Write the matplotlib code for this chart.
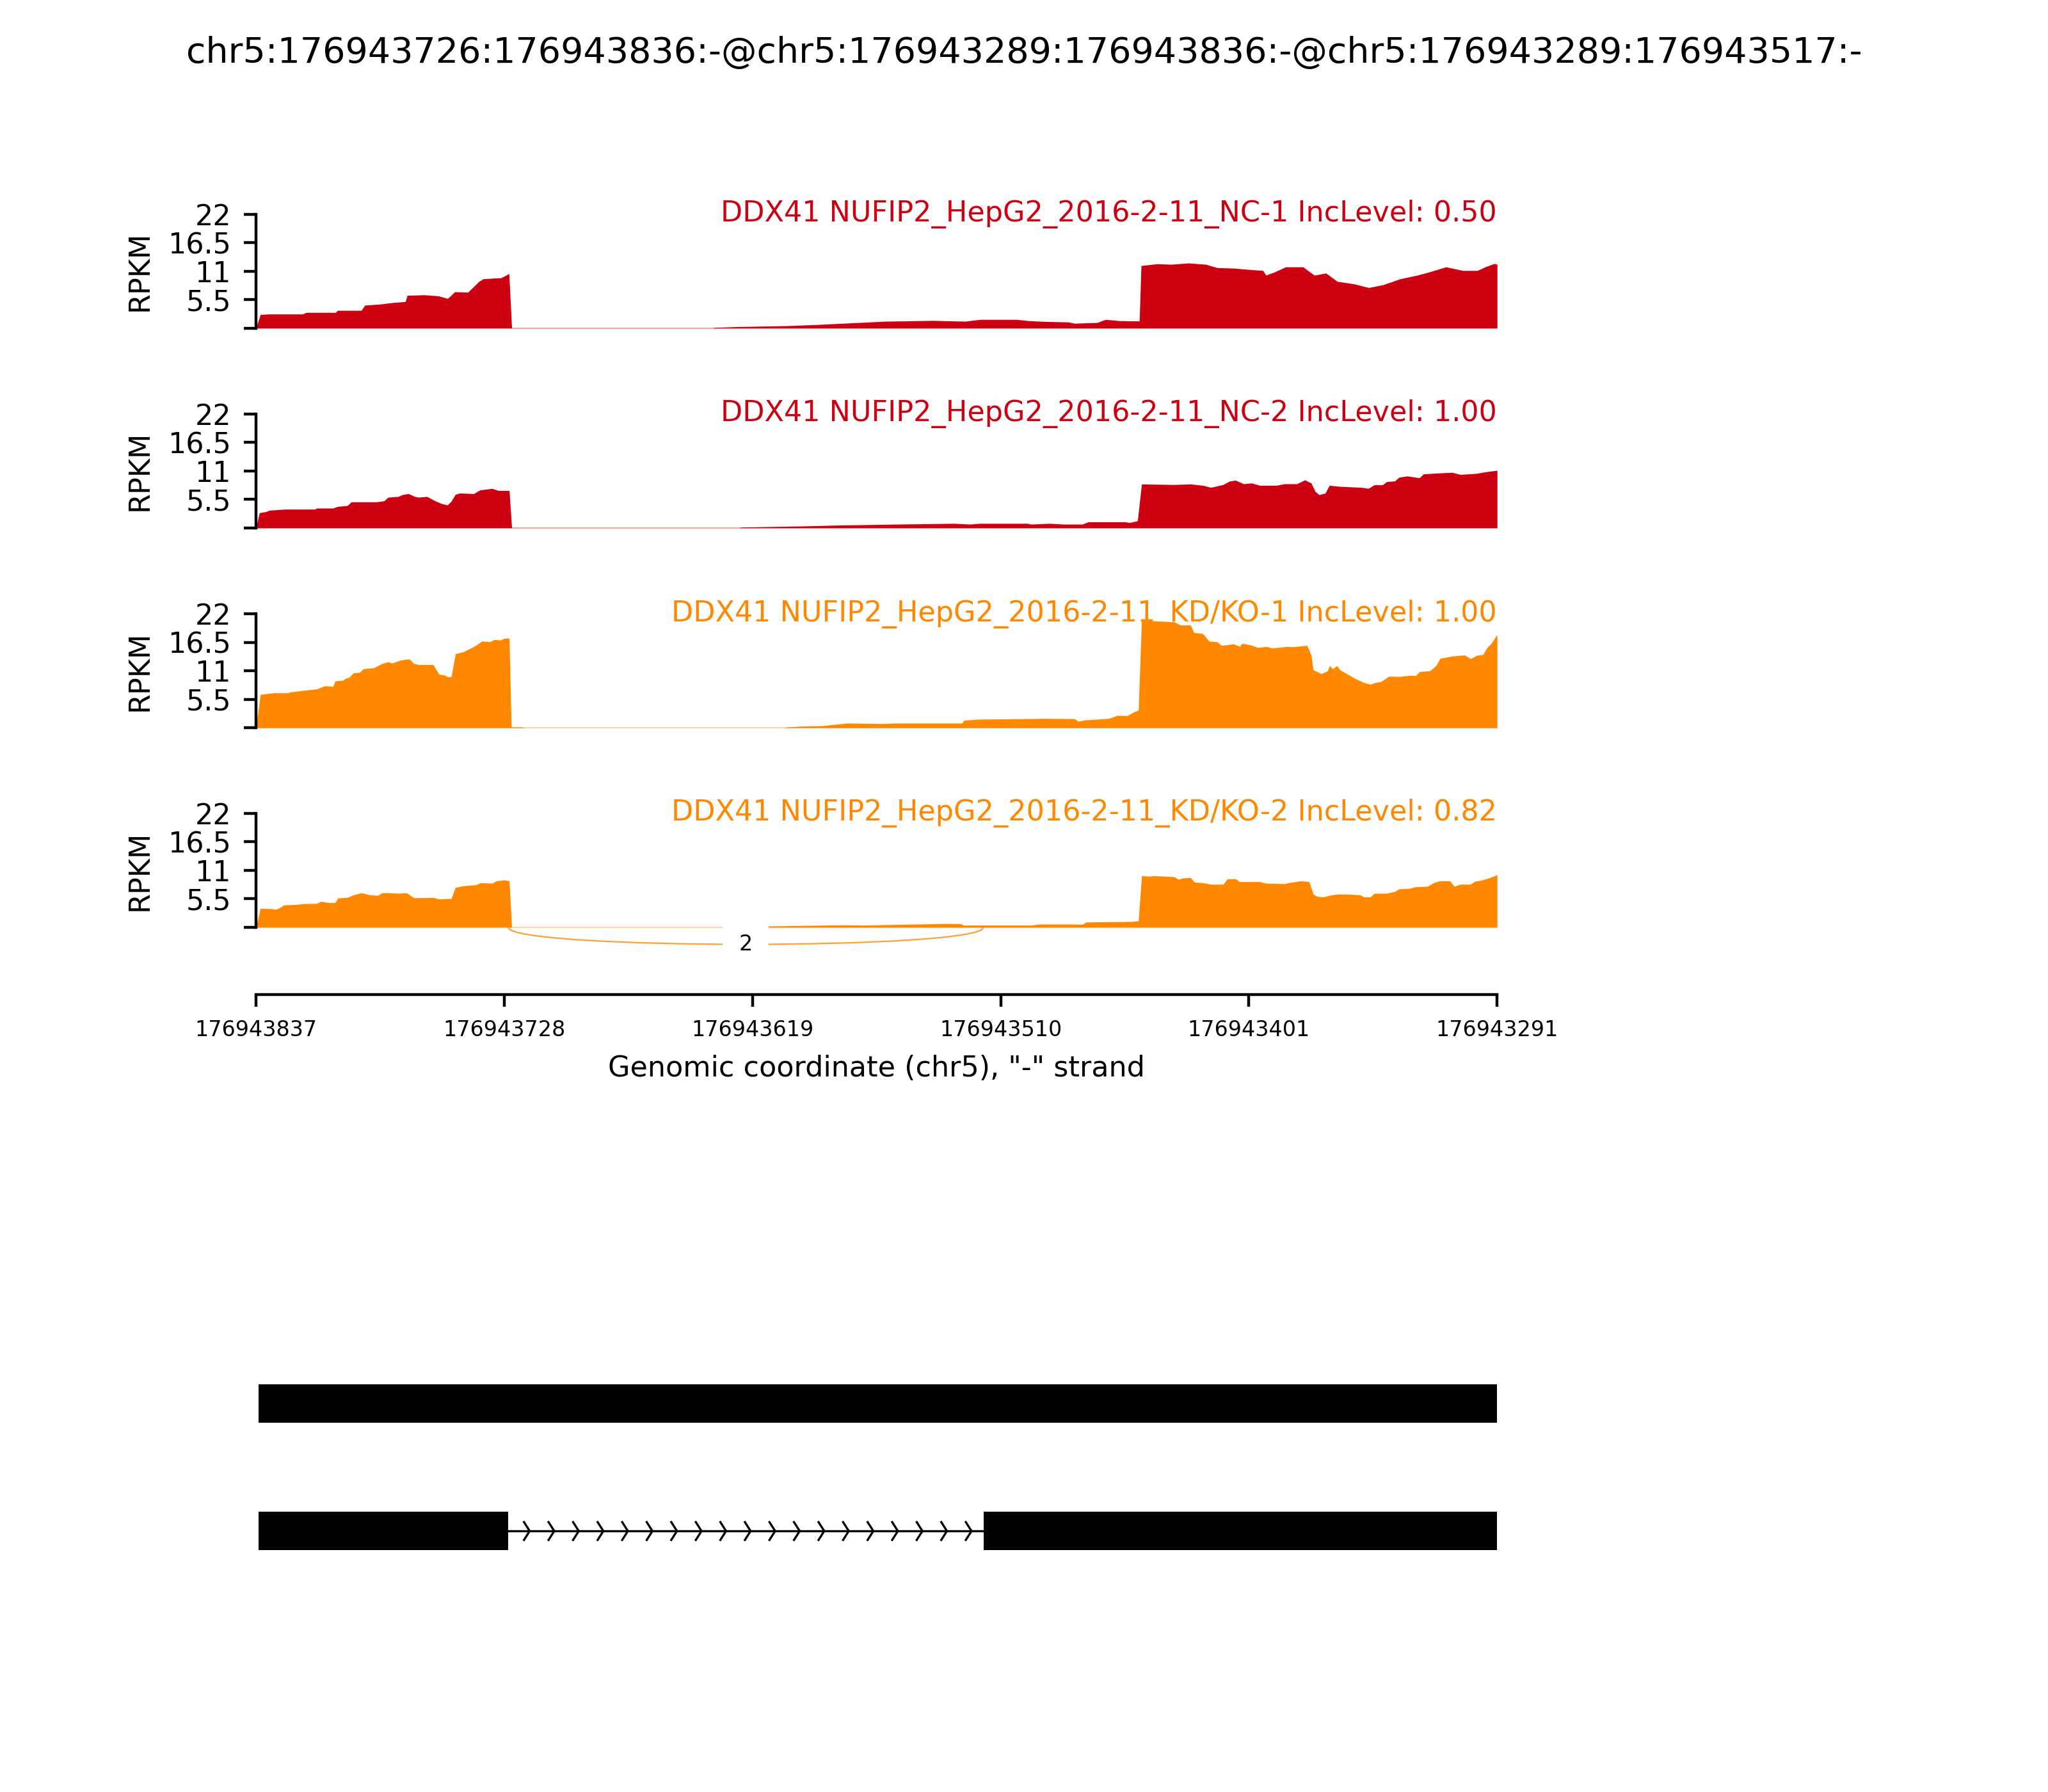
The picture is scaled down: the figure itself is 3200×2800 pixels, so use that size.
import numpy as np
import matplotlib
matplotlib.use("Agg")
import matplotlib.pyplot as plt
from matplotlib.path import Path
from matplotlib.patches import PathPatch

# ---- event / region ----
event_title = "chr5:176943726:176943836:-@chr5:176943289:176943836:-@chr5:176943289:176943517:-"
chrom = "chr5"
strand = "-"
region_start = 176943837   # left edge (minus strand, so coordinates decrease to the right)
region_end = 176943291

sample_labels = [
    "DDX41 NUFIP2_HepG2_2016-2-11_NC-1 IncLevel: 0.50",
    "DDX41 NUFIP2_HepG2_2016-2-11_NC-2 IncLevel: 1.00",
    "DDX41 NUFIP2_HepG2_2016-2-11_KD/KO-1 IncLevel: 1.00",
    "DDX41 NUFIP2_HepG2_2016-2-11_KD/KO-2 IncLevel: 0.82",
]
sample_colors = ["#CC0011", "#CC0011", "#FF8800", "#FF8800"]

# ---- coverage (bp offset from region_start, RPKM) ----
nc1_pos = [0, 1.9, 5.9, 20.5, 22.1, 35.0, 35.8, 46.3, 47.9, 54.4, 60, 65.7, 66.5, 74, 80.3, 84.3, 87.5,
           93.2, 98.1, 100, 107.8, 111.3, 112.5,
           201, 201.6, 211.7, 234.3, 246.8, 258.2, 277, 298, 312, 318.5, 334.8, 339.9, 347.4, 357.4, 360,
           370, 373.8, 380, 388.6, 389.4, 396.4, 402.7, 410.3, 417.8, 422.9, 430.4, 435.4, 443, 444.3,
           448, 453, 460.6, 465.6, 470.7, 475.7, 483.2, 489.5, 495.8, 503.4, 510.9, 516, 523.5, 531,
           537.3, 541, 544.8, 546]
nc1_rpkm = [0, 2.6, 2.7, 2.7, 3.0, 3.0, 3.4, 3.4, 4.4, 4.6, 4.9, 5.1, 6.3, 6.4, 6.2, 5.7, 7.0,
            6.9, 9.0, 9.5, 9.7, 10.5, 0,
            0, 0.1, 0.25, 0.45, 0.66, 0.9, 1.3, 1.45, 1.3, 1.65, 1.65, 1.4, 1.25, 1.15, 0.9,
            1.05, 1.65, 1.4, 1.35, 12.05, 12.4, 12.3, 12.55, 12.3, 11.65, 11.55, 11.35, 11.1, 10.2,
            10.8, 11.8, 11.8, 10.2, 10.6, 9.0, 8.5, 7.8, 8.35, 9.5, 10.2, 10.8, 11.8, 11.1,
            11.1, 11.85, 12.45, 12.3]

nc2_pos = [0, 1.5, 4.2, 6.0, 13.2, 25.8, 26.7, 33.9, 35.7, 40.2, 41.9, 52.7, 56.3, 58.1, 62.6, 64.4,
           67.1, 69.8, 71.6, 75.2, 78.8, 81.5, 84.2, 85.9, 87.7, 89.5, 95.8, 98.5, 103.9, 106.6, 111.4,
           112.5,
           212.5, 213.4, 239.4, 254.7, 281.8, 307, 314, 318.6, 339.3, 341, 349.2, 355.4, 363.5, 366.2,
           382.4, 384.2, 387.8, 389.6, 404, 411.1, 416.5, 420.1, 425.5, 428.2, 430.9, 434.5, 438,
           441.6, 448.9, 452.5, 457.9, 461.4, 464.2, 466, 467.7, 470.4, 472.2, 476.7, 486.6, 489.3,
           492, 495.6, 497.4, 501, 502.8, 506.4, 511.8, 513.6, 519, 526.3, 529.8, 537, 540.7, 546]
nc2_rpkm = [0, 2.9, 3.1, 3.4, 3.6, 3.6, 3.8, 3.8, 4.1, 4.3, 5.0, 5.0, 5.2, 5.9, 6.05, 6.4,
            6.6, 6.05, 5.9, 6.05, 5.2, 4.7, 4.4, 5.15, 6.45, 6.7, 6.6, 7.3, 7.6, 7.2, 7.2,
            0,
            0, 0.12, 0.33, 0.5, 0.7, 0.85, 0.7, 0.85, 0.85, 0.7, 0.85, 0.7, 0.7, 1.15,
            1.15, 1.0, 1.35, 8.45, 8.35, 8.45, 8.2, 7.8, 8.35, 9.0, 9.2, 8.5, 8.65,
            8.2, 8.2, 8.5, 8.5, 9.25, 8.65, 7.0, 6.4, 6.7, 8.2, 8.0, 7.8, 7.6,
            8.3, 8.3, 8.9, 9.05, 9.75, 10.0, 9.65, 10.4, 10.55, 10.7, 10.3, 10.5, 10.8, 11.1]

kd1_pos = [0, 1.9, 5.1, 7.8, 14.1, 15.0, 18.6, 21.3, 26.7, 30.3, 33.9, 34.8, 38.4, 39.3, 41.0, 42.8,
           45.5, 47.3, 51.8, 55.4, 58.1, 59.9, 63.5, 66.2, 67.6, 69.4, 71.6, 77.9, 80.5, 83.2, 84.1,
           85.9, 87.7, 91.3, 94.0, 96.7, 99.4, 103, 104.8, 107.5, 109.3, 111.4, 112.3, 117, 118,
           232.5, 233.1, 239.4, 249.3, 260.1, 275.5, 281.8, 310.6, 311.5, 317.7, 339.3, 346.5, 360,
           361.8, 364.5, 375.2, 378.9, 383.4, 386.1, 388.2, 389.6, 394.1, 399.5, 404, 406.7, 411.1,
           412.6, 416.5, 419.3, 422.9, 424.7, 430.1, 432.8, 433.7, 437.2, 440.8, 444.4, 447.1, 453.4,
           456.1, 462.4, 464.2, 465.1, 468.7, 471.4, 472.3, 473.7, 475.5, 476.8, 480.4, 483.1, 487.6,
           490.3, 492.1, 494.8, 498.4, 502.9, 508.3, 510.1, 511.9, 516.4, 519.1, 520.9, 526.3, 531.7,
           534.4, 537.1, 539.8, 541.6, 543.4, 546]
kd1_rpkm = [0, 6.45, 6.6, 6.75, 6.75, 6.9, 7.1, 7.25, 7.5, 8.1, 8.0, 9.05, 9.2, 9.55, 9.75, 10.6,
            10.7, 11.4, 11.6, 12.4, 12.75, 12.5, 13.05, 13.25, 13.25, 12.4, 12.2, 12.2, 10.35, 10.15, 9.85,
            9.85, 14.3, 14.7, 15.3, 15.9, 16.75, 16.6, 17.05, 16.95, 17.3, 17.3, 0.15, 0.15, 0,
            0, 0.12, 0.3, 0.4, 0.9, 0.8, 0.9, 0.9, 1.45, 1.65, 1.75, 1.8, 1.75,
            1.25, 1.5, 1.8, 2.4, 2.35, 3.05, 3.4, 20.9, 20.65, 20.55, 20.45, 19.85, 19.85,
            18.4, 18.2, 16.75, 16.6, 15.9, 16.2, 15.7, 16.3, 16.05, 15.5, 15.7, 15.4, 15.7,
            15.65, 15.9, 14.05, 11.2, 10.45, 11.0, 12.0, 11.4, 12.0, 11.2, 10.3, 9.6, 8.7,
            8.4, 8.7, 8.9, 9.95, 9.9, 10.15, 10.05, 10.85, 11.0, 12.0, 13.4, 13.85, 14.05,
            13.35, 14.0, 14.15, 15.5, 16.3, 18.0]

kd2_pos = [0, 1.9, 6.0, 8.7, 10.5, 12.3, 17.7, 21.3, 26.7, 28.5, 32.1, 34.8, 36.0, 40.2, 42.8, 46.4,
           50.0, 53.6, 55.4, 59.0, 62.6, 66.2, 69.4, 73.4, 77.9, 80.5, 85.9, 87.7, 91.3, 96.7, 98.9,
           103.9, 105.7, 109.3, 111.4, 112.5,
           221.5, 222, 258.3, 267.5, 302.5, 309.7, 311.5, 341, 344.7, 358.2, 363.5, 365.3, 385.1, 388.2,
           389.6, 393.2, 395, 404, 405.8, 407.6, 411.1, 412.9, 416.5, 420.1, 425.5, 427.3, 430.9,
           432.7, 441.6, 444.3, 452.5, 454.2, 459.6, 463.3, 465.1, 466.9, 469.5, 472.2, 475.8, 479.4,
           485.7, 487.5, 490.2, 492, 497.4, 501, 502.8, 507.3, 510, 515.4, 518.1, 520.8, 525.3,
           527.1, 529.8, 534.3, 536.1, 539.7, 543.3, 546]
kd2_rpkm = [0, 3.65, 3.6, 3.45, 3.8, 4.3, 4.4, 4.55, 4.6, 5.0, 4.75, 4.75, 5.65, 5.75, 6.25, 6.65,
            6.25, 6.15, 6.65, 6.65, 6.55, 6.65, 5.7, 5.7, 5.75, 5.45, 5.55, 7.7, 8.0, 8.2, 8.6,
            8.5, 8.95, 9.15, 8.95, 0,
            0, 0.2, 0.45, 0.4, 0.7, 0.7, 0.4, 0.4, 0.6, 0.6, 0.55, 1.0, 1.1, 1.25,
            9.95, 9.85, 9.95, 9.75, 9.25, 9.5, 9.6, 8.7, 8.6, 8.3, 8.3, 9.35, 9.35,
            8.8, 8.8, 8.5, 8.4, 8.6, 8.95, 8.8, 6.4, 5.95, 5.85, 6.15, 6.4, 6.4,
            6.25, 5.85, 5.85, 6.55, 6.55, 6.9, 7.4, 7.5, 7.8, 7.9, 8.6, 8.95, 8.95,
            7.9, 8.3, 8.3, 8.85, 9.15, 9.65, 10.15]

coverage_pos = [nc1_pos, nc2_pos, kd1_pos, kd2_pos]
coverage_rpkm = [nc1_rpkm, nc2_rpkm, kd1_rpkm, kd2_rpkm]

# junction reads (donor, acceptor, count) per sample
junctions = [[], [], [], [(176943726, 176943517, 2)]]

ymax = 22
ytick_vals = [0, 5.5, 11, 16.5, 22]
ytick_labels = ["", "5.5", "11", "16.5", "22"]
xtick_labels = ["176943837", "176943728", "176943619", "176943510", "176943401", "176943291"]

# isoforms (exons in genomic coords)
transcripts = [
    [(176943289, 176943836)],
    [(176943726, 176943836), (176943289, 176943517)],
]

# ---- layout ----
fig = plt.figure(figsize=(8, 7), dpi=400)
left, width = 0.125, 0.606
ylow = -13
h_frac = 0.1011
bottoms = [0.7794, 0.6679, 0.5563, 0.445]

for i in range(4):
    ax = fig.add_axes([left, bottoms[i], width, h_frac])
    c = sample_colors[i]
    x = region_start - np.array(coverage_pos[i])
    y = np.array(coverage_rpkm[i])
    ax.fill_between(x, y, 0, color=c, lw=0)
    ax.plot([region_start, region_end], [0, 0], color=c, lw=0.4, alpha=0.35)

    for ss1, ss2, count in junctions[i]:
        hh = 0.2 * ymax
        pts = [(ss1, 0), (ss1, -hh), (ss2, -hh), (ss2, 0)]
        path = Path(pts, [Path.MOVETO, Path.CURVE4, Path.CURVE4, Path.CURVE4])
        ax.add_patch(PathPatch(path, ec=c, fc="none", lw=0.4, alpha=0.8))
        ax.text((ss1 + ss2) / 2, -0.75 * hh, str(count), fontsize=6,
                ha="center", va="center", backgroundcolor="w", zorder=10)

    ax.text(region_end, ymax, sample_labels[i], ha="right", va="center", color=c, fontsize=8)

    ax.set_xlim(region_start, region_end)
    ax.set_ylim(ylow, ymax)
    ax.spines["top"].set_visible(False)
    ax.spines["right"].set_visible(False)
    ax.spines["left"].set_bounds(0, ymax)
    ax.set_yticks(ytick_vals)
    ax.set_yticklabels(ytick_labels, fontsize=8)
    ax.set_ylabel("RPKM", fontsize=8)
    # centre the label on the visible 0..ymax part of the axis
    ax.yaxis.label.set_y((ymax / 2 - ylow) / (ymax - ylow))

    if i < 3:
        ax.spines["bottom"].set_visible(False)
        ax.set_xticks([])
    else:
        ax.set_xticks(np.linspace(region_start, region_end, len(xtick_labels)))
        ax.set_xticklabels(xtick_labels, fontsize=6)
        ax.set_xlabel('Genomic coordinate (%s), "%s" strand' % (chrom, strand), fontsize=8)

fig.suptitle(event_title, fontsize=10)

# ---- gene structure ----
gax = fig.add_axes([left, 0.11, width, 0.1425])
half = 0.15
for k, exons in enumerate(transcripts):
    yc = len(transcripts) - 1 - k
    for s, e in exons:
        gax.fill([s, e, e, s], [yc - half, yc - half, yc + half, yc + half], "k", lw=0.5)
    ex = sorted(exons, reverse=True)
    for a, b in zip(ex[:-1], ex[1:]):
        i_lo, i_hi = a[0], b[1]          # intron between the two exons (genomic)
        gax.plot([i_lo, i_hi], [yc, yc], "k", lw=0.6)
        L = i_lo - i_hi
        narrows = int(L / 11)
        tips = np.linspace(i_lo - 0.045 * L, i_lo - 0.975 * L, narrows)
        for t in tips:
            gax.plot([t + 2.5, t, t + 2.5], [yc + 0.07, yc, yc - 0.07], "k", lw=0.6)
gax.set_xlim(region_start, region_end)
gax.set_ylim(-0.5, 1.5)
gax.axis("off")

fig.savefig("out.png", dpi=400)
plt.close(fig)
